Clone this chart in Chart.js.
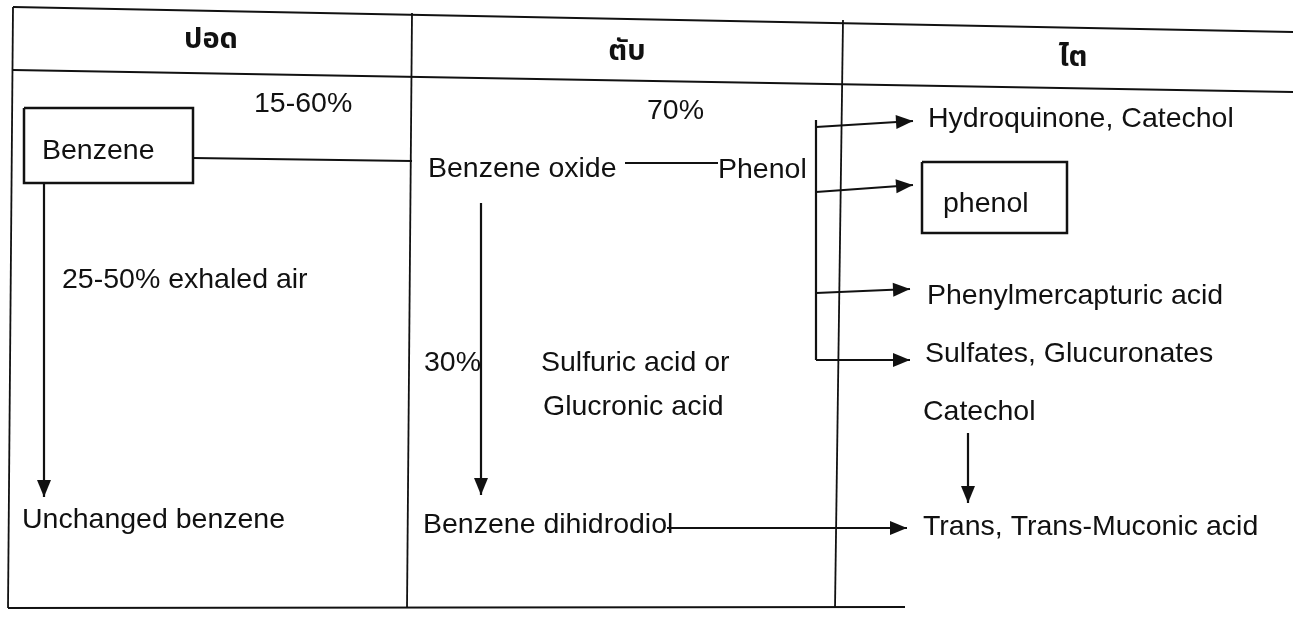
<!DOCTYPE html>
<html lang="th">
<head>
<meta charset="UTF-8">
<title>Benzene metabolism</title>
<script src="https://cdn.jsdelivr.net/npm/chart.js"></script>
<style>
  html, body { margin: 0; padding: 0; background: #fff; }
  canvas { display: block; }
</style>
</head>
<body>
<canvas id="grafico" width="1293" height="618"></canvas>
<script>
// column headers (lung, liver, kidney)
const headerText = ['ปอด', 'ตับ', 'ไต'];
const headerX = [211, 627, 1073];
const headerY = [42, 54, 60];

// text in the cells
const labelText = [
  '15-60%', 'Benzene', '25-50% exhaled air', 'Unchanged benzene',
  '70%', 'Benzene oxide', 'Phenol', '30%', 'Sulfuric acid or', 'Glucronic acid', 'Benzene dihidrodiol',
  'Hydroquinone, Catechol', 'phenol', 'Phenylmercapturic acid', 'Sulfates, Glucuronates', 'Catechol',
  'Trans, Trans-Muconic acid'
];
const labelX = [254, 42, 62, 22, 647, 428, 718, 424, 541, 543, 423, 928, 943, 927, 925, 923, 923];
const labelY = [104, 151, 280, 520, 111, 169, 170, 363, 363, 407, 525, 119, 204, 296, 354, 412, 527];

// table grid
const tableLines = [
  [[13, 7], [1293, 32]],
  [[13, 70], [1293, 92]],
  [[13, 7], [8, 608]],
  [[8, 608], [905, 607]],
  [[412, 13], [407, 608]],
  [[843, 20], [835, 608]]
];

// boxes round "Benzene" and "phenol"
const boxes = [
  [[24, 108], [193, 108], [193, 183], [24, 183], [24, 108]],
  [[922, 162], [1067, 162], [1067, 233], [922, 233], [922, 162]]
];

// plain connectors
const connectors = [
  [[193, 158], [412, 161]],
  [[625, 163], [718, 163]],
  [[816, 120], [816, 360]]
];

// arrows (last point = tip)
const arrows = [
  [[44, 183], [44, 497]],
  [[481, 203], [481, 495]],
  [[816, 127], [913, 121]],
  [[816, 192], [913, 185]],
  [[816, 293], [910, 289]],
  [[816, 360], [910, 360]],
  [[968, 433], [968, 503]],
  [[667, 528], [907, 528]]
];

function toPts(arr) {
  return arr.map(p => ({ x: p[0], y: p[1] }));
}

const datasets = [];
tableLines.forEach(l => datasets.push({ data: toPts(l), borderWidth: 1.8 }));
boxes.forEach(l => datasets.push({ data: toPts(l), borderWidth: 2.5 }));
connectors.forEach(l => datasets.push({ data: toPts(l), borderWidth: 2.2 }));
arrows.forEach(l => datasets.push({ data: toPts(l), borderWidth: 2.2, arrow: true }));
datasets.forEach(d => {
  d.showLine = true;
  d.borderColor = '#111';
  d.pointRadius = 0;
  d.fill = false;
});

const textPlugin = {
  id: 'textos',
  afterDatasetsDraw(chart) {
    const ctx = chart.ctx;
    const sx = chart.scales.x;
    const sy = chart.scales.y;
    ctx.save();

    // arrowheads
    ctx.fillStyle = '#111';
    chart.data.datasets.forEach((ds, i) => {
      if (!ds.arrow) return;
      const pts = chart.getDatasetMeta(i).data;
      const a = pts[pts.length - 2];
      const b = pts[pts.length - 1];
      const ang = Math.atan2(b.y - a.y, b.x - a.x);
      const len = 17, half = 7;
      ctx.beginPath();
      ctx.moveTo(b.x, b.y);
      ctx.lineTo(b.x - len * Math.cos(ang) - half * Math.sin(ang), b.y - len * Math.sin(ang) + half * Math.cos(ang));
      ctx.lineTo(b.x - len * Math.cos(ang) + half * Math.sin(ang), b.y - len * Math.sin(ang) - half * Math.cos(ang));
      ctx.closePath();
      ctx.fill();
    });

    ctx.fillStyle = '#111';
    ctx.textBaseline = 'middle';

    ctx.textAlign = 'center';
    ctx.font = 'bold 29px "Noto Sans Thai", "Noto Sans", "DejaVu Sans", sans-serif';
    headerText.forEach((t, i) => {
      ctx.fillText(t, sx.getPixelForValue(headerX[i]), sy.getPixelForValue(headerY[i]));
    });

    ctx.textAlign = 'left';
    ctx.font = '28.5px "Liberation Sans", Arial, sans-serif';
    labelText.forEach((t, i) => {
      ctx.fillText(t, sx.getPixelForValue(labelX[i]), sy.getPixelForValue(labelY[i]));
    });
    ctx.restore();
  }
};

new Chart(document.getElementById('grafico'), {
  type: 'scatter',
  data: { datasets: datasets },
  options: {
    responsive: false,
    animation: false,
    devicePixelRatio: 1,
    layout: { padding: 0 },
    plugins: {
      legend: { display: false },
      tooltip: { enabled: false }
    },
    scales: {
      x: { type: 'linear', min: 0, max: 1293, display: false },
      y: { type: 'linear', min: 0, max: 618, reverse: true, display: false }
    }
  },
  plugins: [textPlugin]
});
</script>
</body>
</html>
